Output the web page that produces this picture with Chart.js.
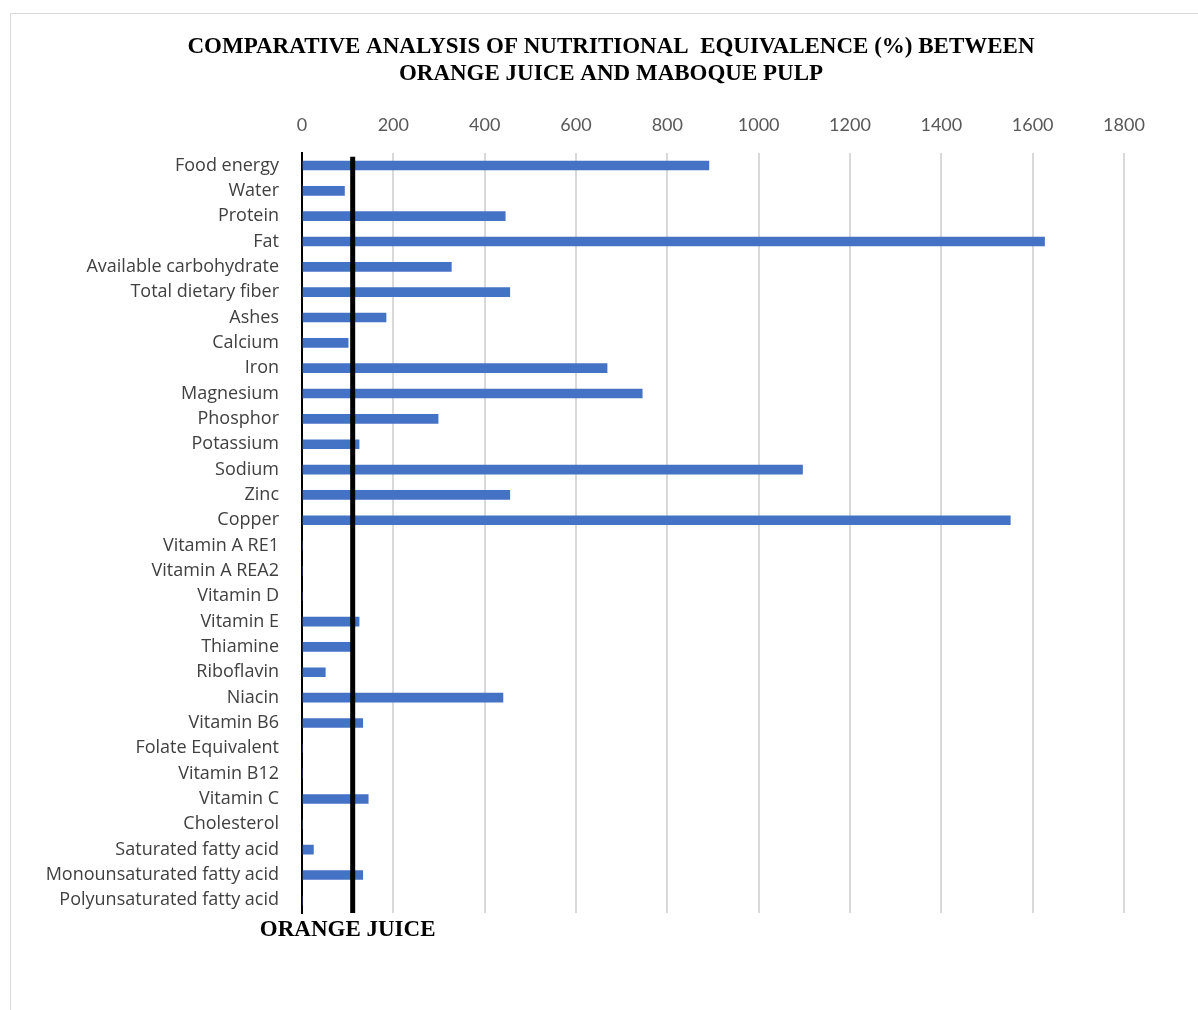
<!DOCTYPE html>
<html>
<head>
<meta charset="utf-8">
<script src="https://cdn.jsdelivr.net/npm/chart.js@4"></script>
<style>
    html, body { margin: 0; padding: 0; background: #fff; overflow: hidden; }
    .frame {
        position: absolute;
        left: 10px;
        top: 13px;
        width: 1200px;
        height: 1000px;
        border: 1px solid #d9d9d9;
    }
</style>
</head>
<body>
<div class="frame"><canvas id="chartEquivalencia" width="1200" height="1000"></canvas></div>
<script>
const nutrientes = [
    "Food energy",
    "Water",
    "Protein",
    "Fat",
    "Available carbohydrate",
    "Total dietary fiber",
    "Ashes",
    "Calcium",
    "Iron",
    "Magnesium",
    "Phosphor",
    "Potassium",
    "Sodium",
    "Zinc",
    "Copper",
    "Vitamin A RE1",
    "Vitamin A REA2",
    "Vitamin D",
    "Vitamin E",
    "Thiamine",
    "Riboflavin",
    "Niacin",
    "Vitamin B6",
    "Folate Equivalent",
    "Vitamin B12",
    "Vitamin C",
    "Cholesterol",
    "Saturated fatty acid",
    "Monounsaturated fatty acid",
    "Polyunsaturated fatty acid",
];

const equivalenciaMaboque = [
    891, 93, 445, 1626, 327, 455, 184, 101, 668, 745,
    298, 125, 1096, 455, 1551, 0, 0, 0, 125, 107,
    51, 440, 133, 0, 0, 145, 0, 25, 133, 0,
];

const ticksX = [0, 200, 400, 600, 800, 1000, 1200, 1400, 1600, 1800];
const valorSucoLaranja = 111;

// linha preta de referencia (suco de laranja) + rotulo embaixo
const linhaReferencia = {
    id: "linhaReferencia",
    afterDatasetsDraw(chart) {
        const { ctx, chartArea, scales } = chart;
        const x = scales.x.getPixelForValue(valorSucoLaranja);
        ctx.save();
        ctx.strokeStyle = "#000000";
        ctx.lineWidth = 5;
        ctx.beginPath();
        ctx.moveTo(x, chartArea.top + 4);
        ctx.lineTo(x, chartArea.bottom);
        ctx.stroke();
        ctx.fillStyle = "#000000";
        ctx.font = "bold 23px 'Liberation Serif'";
        ctx.textAlign = "center";
        ctx.textBaseline = "middle";
        ctx.fillText("ORANGE JUICE", scales.x.getPixelForValue(100), chartArea.bottom + 17);
        ctx.restore();
    }
};

const equivalencia = document.getElementById("chartEquivalencia");

new Chart(equivalencia, {
    type: "bar",
    data: {
        labels: nutrientes,
        datasets: [{
            label: "Maboque pulp",
            data: equivalenciaMaboque,
            backgroundColor: "#4472C4",
            barThickness: 9
        }]
    },
    options: {
        responsive: false,
        animation: false,
        indexAxis: "y",
        layout: {
            padding: { left: 0, right: 0, top: 0, bottom: 101 }
        },
        plugins: {
            legend: { display: false },
            tooltip: { enabled: false },
            title: {
                display: true,
                text: [
                    "COMPARATIVE ANALYSIS OF NUTRITIONAL  EQUIVALENCE (%) BETWEEN",
                    "ORANGE JUICE AND MABOQUE PULP"
                ],
                color: "#000000",
                font: { family: "'Liberation Serif'", size: 23, weight: "bold", lineHeight: 1.17 },
                padding: { top: 20, bottom: 25 }
            }
        },
        scales: {
            x: {
                position: "top",
                min: 0,
                max: 1800,
                afterBuildTicks: (scale) => {
                    scale.ticks = ticksX.map(v => ({ value: v }));
                },
                afterFit: (scale) => { scale.height = 40; },
                ticks: {
                    color: "#595959",
                    font: { family: "Lato", size: 18 },
                    padding: 17,
                    callback: (v) => String(v)
                },
                grid: {
                    color: "#d9d9d9",
                    lineWidth: 2,
                    drawTicks: false
                },
                border: { display: false }
            },
            y: {
                afterFit: (scale) => { scale.width = 291; },
                ticks: {
                    color: "#404040",
                    font: { family: "Open Sans", size: 18, lineHeight: 1.1 },
                    padding: 23,
                    autoSkip: false
                },
                grid: { display: false, drawTicks: false },
                border: { color: "#000000", width: 2 }
            },
            // eixo vazio so para reservar espaco a direita
            espacoDireita: {
                type: "linear",
                position: "right",
                afterFit: (scale) => { scale.width = 87; },
                ticks: { display: false },
                grid: { display: false, drawTicks: false },
                border: { display: false }
            }
        }
    },
    plugins: [linhaReferencia]
});
</script>
</body>
</html>
